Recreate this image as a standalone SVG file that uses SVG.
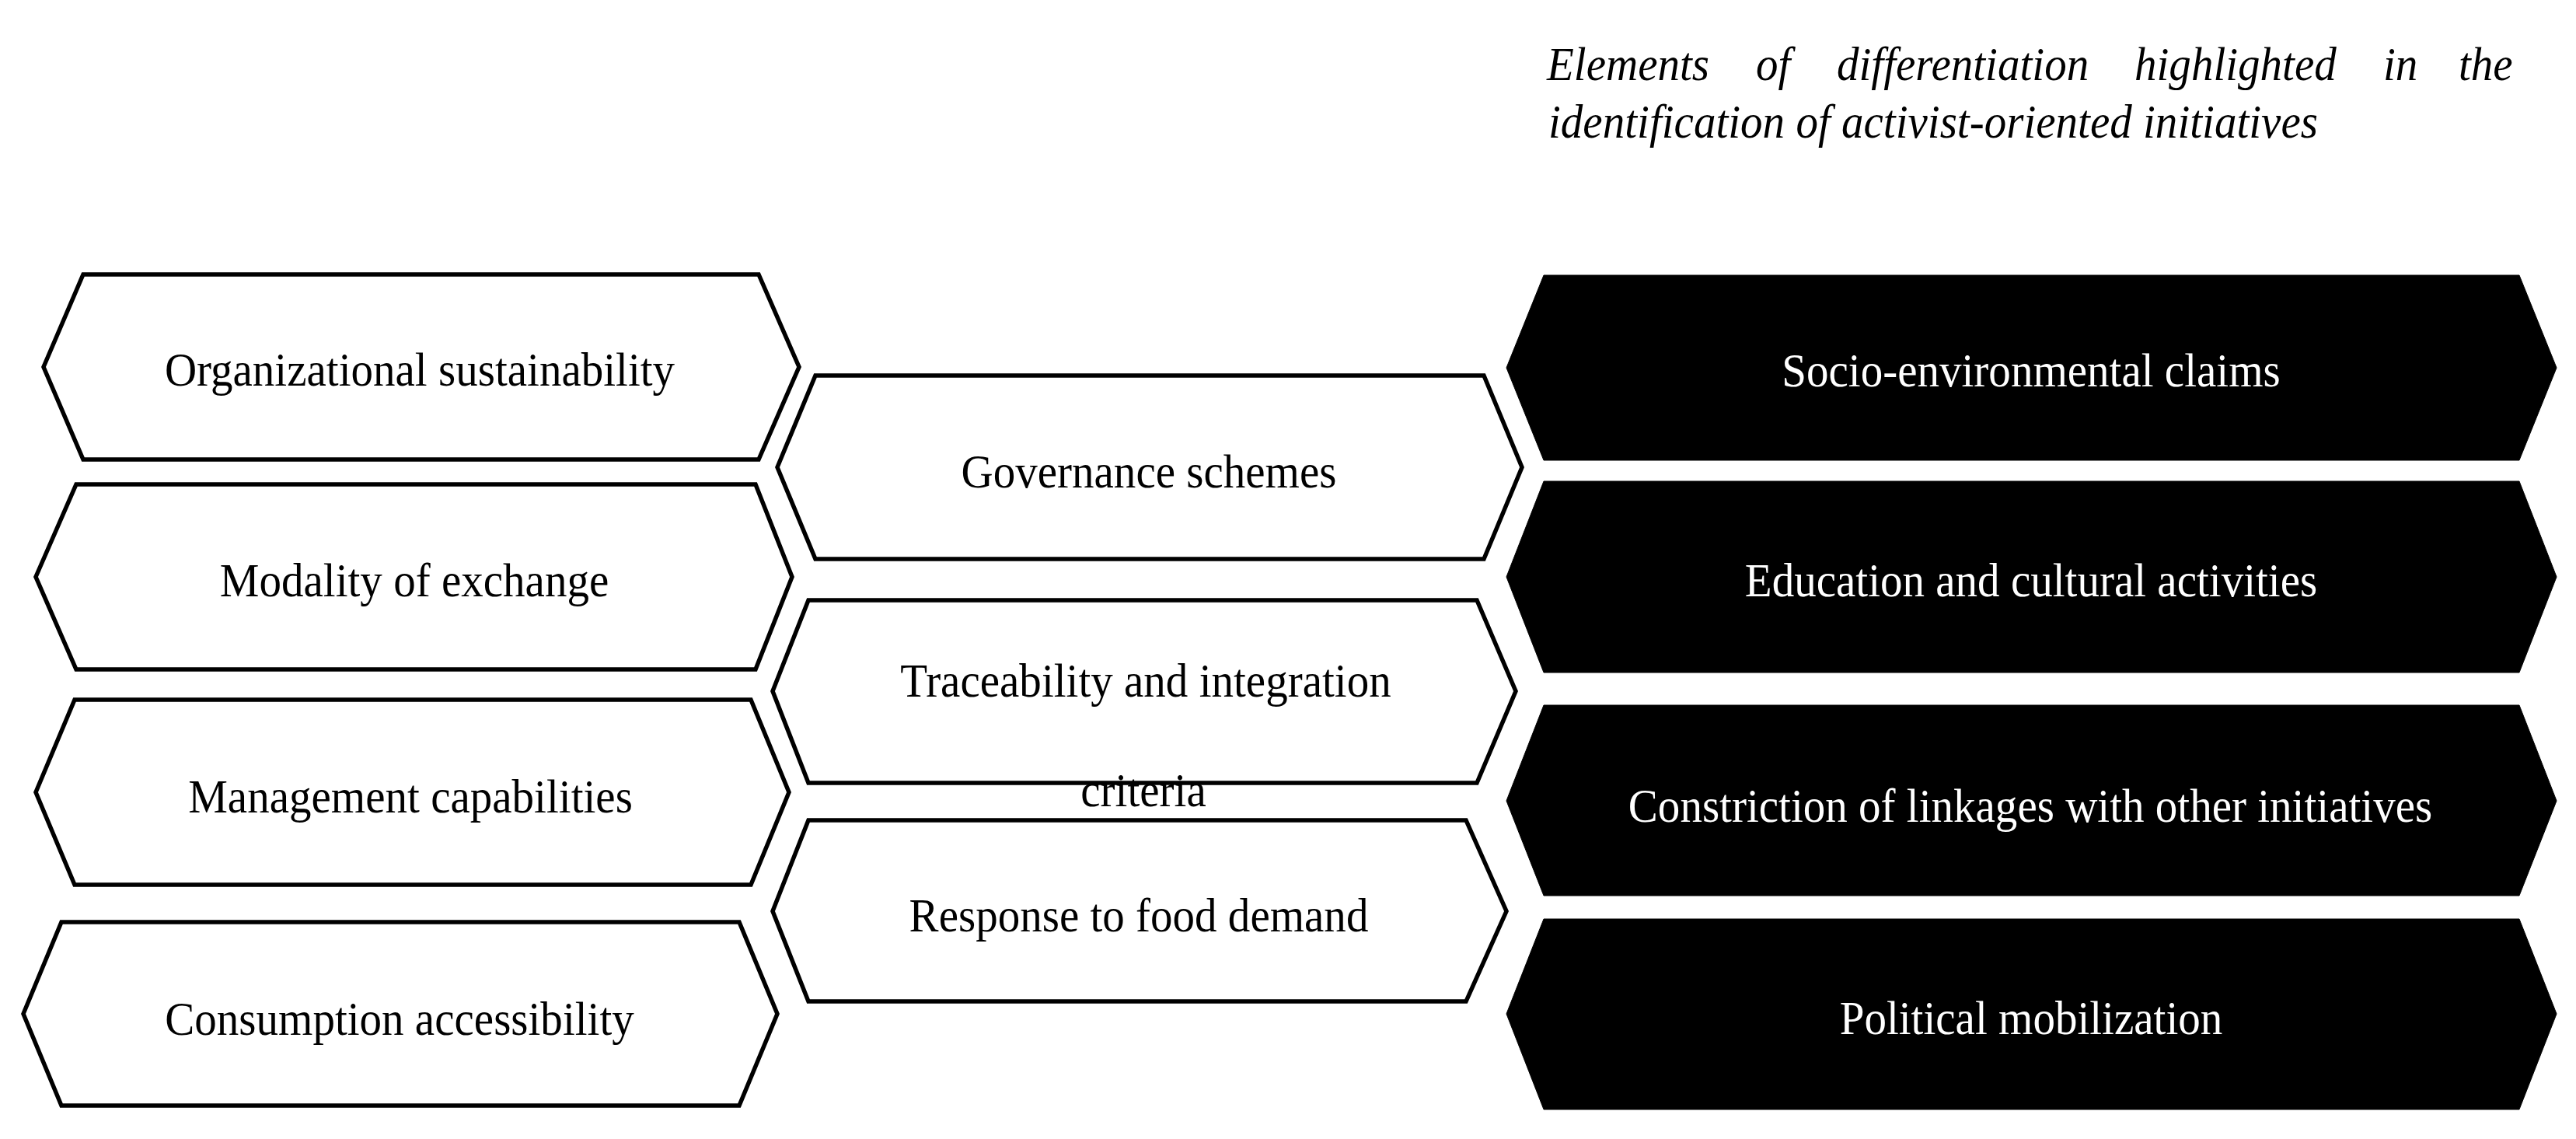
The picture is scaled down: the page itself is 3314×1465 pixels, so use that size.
<svg xmlns="http://www.w3.org/2000/svg" width="3314" height="1465" viewBox="0 0 3314 1465">
<style>
.w{fill:#fff;stroke:#000;stroke-width:5.5;stroke-linejoin:miter}
.b{fill:#000;stroke:#000;stroke-width:1}
.t{font-family:"Liberation Serif","Times New Roman",serif;font-size:62px;text-anchor:middle;fill:#000}
.tw{font-family:"Liberation Serif","Times New Roman",serif;font-size:62px;text-anchor:middle;fill:#fff}
.ti{font-family:"Liberation Serif","Times New Roman",serif;font-size:62px;font-style:italic;fill:#000}
</style>
<rect width="3314" height="1465" fill="#fff"/>
<g id="title">
<text class="ti" transform="matrix(0.92 0 0 1 1990 0)" y="103">Elements</text>
<text class="ti" transform="matrix(0.92 0 0 1 2259 0)" y="103">of</text>
<text class="ti" transform="matrix(0.92 0 0 1 2363 0)" y="103">differentiation</text>
<text class="ti" transform="matrix(0.92 0 0 1 2746 0)" y="103">highlighted</text>
<text class="ti" transform="matrix(0.92 0 0 1 3066 0)" y="103">in</text>
<text class="ti" transform="matrix(0.92 0 0 1 3163 0)" y="103">the</text>
<text class="ti" transform="matrix(0.92 0 0 1 1992 0)" y="177">identification of activist-oriented initiatives</text>
</g>
<g id="connectors"/>
<g id="org-sustainability">
<polygon class="w" points="56,472 107,353 976,353 1028,472 976,591 107,591"/>
<text class="t" transform="matrix(0.92 0 0 1 540 0)" y="496">Organizational sustainability</text>
</g>
<g id="modality-exchange">
<polygon class="w" points="46,742 98,623 972,623 1019,742 972,861 98,861"/>
<text class="t" transform="matrix(0.92 0 0 1 533 0)" y="767">Modality of exchange</text>
</g>
<g id="management-capabilities">
<polygon class="w" points="46,1019 96,900 966,900 1015,1019 966,1138 96,1138"/>
<text class="t" transform="matrix(0.92 0 0 1 528 0)" y="1045">Management capabilities</text>
</g>
<g id="consumption-accessibility">
<polygon class="w" points="30,1304 79,1186 951,1186 1000,1304 951,1422 79,1422"/>
<text class="t" transform="matrix(0.92 0 0 1 514 0)" y="1331">Consumption accessibility</text>
</g>
<g id="governance-schemes">
<polygon class="w" points="1000,601 1049,483 1909,483 1958,601 1909,719 1049,719"/>
<text class="t" transform="matrix(0.92 0 0 1 1478 0)" y="627">Governance schemes</text>
</g>
<g id="traceability">
<polygon class="w" points="994,889 1040,772 1900,772 1950,889 1900,1007 1040,1007"/>
<text class="t" transform="matrix(0.92 0 0 1 1474 0)" y="896">Traceability and integration</text>
<text class="t" transform="matrix(0.92 0 0 1 1471 0)" y="1037">criteria</text>
</g>
<g id="food-demand">
<polygon class="w" points="994,1172 1040,1055 1886,1055 1938,1172 1886,1288 1040,1288"/>
<text class="t" transform="matrix(0.92 0 0 1 1465 0)" y="1198">Response to food demand</text>
</g>
<g id="socio-environmental">
<polygon class="b" points="1938,473 1986,354 3241,354 3289,473 3241,592 1986,592"/>
<text class="tw" transform="matrix(0.92 0 0 1 2613 0)" y="497">Socio-environmental claims</text>
</g>
<g id="education-cultural">
<polygon class="b" points="1938,742 1986,619 3241,619 3289,742 3241,865 1986,865"/>
<text class="tw" transform="matrix(0.92 0 0 1 2613 0)" y="767">Education and cultural activities</text>
</g>
<g id="constriction-linkages">
<polygon class="b" points="1938,1030 1986,907 3241,907 3289,1030 3241,1152 1986,1152"/>
<text class="tw" transform="matrix(0.92 0 0 1 2612 0)" y="1057">Constriction of linkages with other initiatives</text>
</g>
<g id="political-mobilization">
<polygon class="b" points="1938,1304 1986,1182 3241,1182 3289,1304 3241,1427 1986,1427"/>
<text class="tw" transform="matrix(0.92 0 0 1 2613 0)" y="1330">Political mobilization</text>
</g>
</svg>
